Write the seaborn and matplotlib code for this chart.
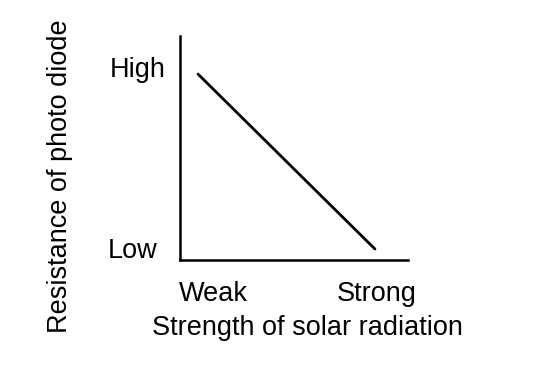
import matplotlib
matplotlib.use("Agg")
import matplotlib.pyplot as plt
import matplotlib.transforms as mtransforms
import seaborn as sns
import pandas as pd

# Data (normalised, qualitative axes)
strength = [0.079, 0.855]
resistance = [0.830, 0.049]
x_tick_pos = [0.145, 0.864]
x_tick_labels = ["Weak", "Strong"]
y_tick_pos = [0.054, 0.862]
y_tick_labels = ["Low", "High"]

sns.set_theme(style="white")
plt.rcParams['font.family'] = ['Liberation Sans', 'DejaVu Sans']

fig = plt.figure(figsize=(5.44, 3.74), dpi=100)
ax = fig.add_axes([180/544, 1 - 260/374, 228/544, 224/374])

df = pd.DataFrame({"x": strength, "y": resistance})
sns.lineplot(data=df, x="x", y="y", ax=ax, color="black", linewidth=2.0)

ax.set_xlim(0, 1)
ax.set_ylim(0, 1)
for s in ["top", "right"]:
    ax.spines[s].set_visible(False)
for s in ["left", "bottom"]:
    ax.spines[s].set_color("black")
    ax.spines[s].set_linewidth(1.8)

fs = 19.5
ax.set_xticks(x_tick_pos, x_tick_labels, fontsize=fs, color="black")
ax.set_yticks(y_tick_pos, y_tick_labels, fontsize=fs, color="black")
ax.tick_params(axis="both", length=0)
ax.tick_params(axis="x", pad=15)
ax.tick_params(axis="y", pad=10)
# Low label sits a bit further left than High
lbl = ax.get_yticklabels()[0]
lbl.set_transform(lbl.get_transform() + mtransforms.ScaledTranslation(-9/100, 0, fig.dpi_scale_trans))

ax.set_xlabel("Strength of solar radiation", fontsize=fs, color="black")
ax.set_ylabel("Resistance of photo diode", fontsize=fs, color="black")
ax.xaxis.set_label_coords((307 - 180)/228, -(328 - 260)/224)
ax.yaxis.set_label_coords((60 - 180)/228, (260 - 176)/224)
ax.xaxis.label.set_va("center")
ax.yaxis.label.set_va("center")

fig.savefig("out.png", dpi=100, facecolor="white")
